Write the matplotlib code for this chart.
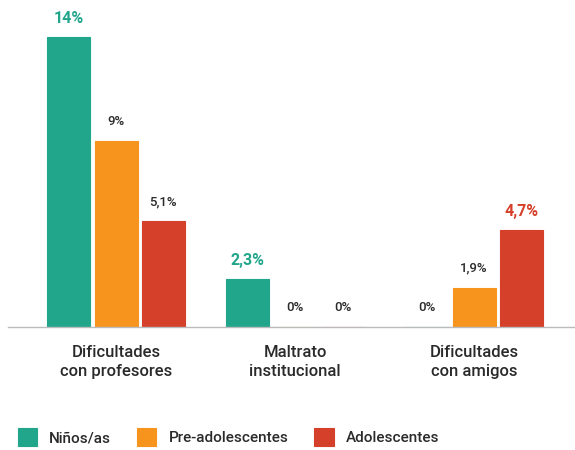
import numpy as np
from matplotlib import pyplot as plt

categories = ['Dificultades\ncon profesores', 'Maltrato\ninstitucional', 'Dificultades\ncon amigos']
series = ['Niños/as', 'Pre-adolescentes', 'Adolescentes']
ninos = [14, 2.3, 0]
pre = [9, 0, 1.9]
adol = [5.1, 0, 4.7]
labels_ninos = ['14%', '2,3%', '0%']
labels_pre = ['9%', '0%', '1,9%']
labels_adol = ['5,1%', '0%', '4,7%']
# which labels are highlighted (bold, coloured)
highlight = [[True, True, False], [False, False, False], [False, False, True]]

colors = ['#21A68B', '#F7941D', '#D4402A']
text_dark = '#2a2a2a'

plt.rcParams['font.family'] = ['Roboto', 'DejaVu Sans']

fig = plt.figure(figsize=(5.75, 4.5), dpi=100)
ax = fig.add_axes([8 / 575, 123 / 450, 567 / 575, 317 / 450])

x = np.arange(len(categories))
step = 47.5 / 179
width = 43 / 179
data = [ninos, pre, adol]
texts = [labels_ninos, labels_pre, labels_adol]

for i, (vals, col) in enumerate(zip(data, colors)):
  pos = x + (i - 1) * step
  ax.bar(pos, vals, width, color=col, edgecolor=col, linewidth=0.8, label=series[i])
  for j, (p, v) in enumerate(zip(pos, vals)):
    hl = highlight[i][j]
    ax.annotate(texts[i][j], (p, v), xytext=(0, 8 if hl else 9.5), textcoords='offset points',
                ha='center', va='bottom',
                fontsize=11.5 if hl else 9.5,
                fontweight='bold' if hl else 'medium',
                color=col if hl else text_dark)

ax.set_xlim((8 - 116) / 179, (575 - 116) / 179)
ax.set_ylim(0, 317 / 20.7)

for s in ['top', 'right', 'left']:
  ax.spines[s].set_visible(False)
ax.spines['bottom'].set_color('#bbbbbb')
ax.spines['bottom'].set_linewidth(1)
ax.set_yticks([])
ax.set_xticks(x)
ax.set_xticklabels(categories, fontsize=12, fontweight='medium', color=text_dark, linespacing=1.35)
ax.tick_params(axis='x', length=0, pad=13)

fig.legend(loc='center left', bbox_to_anchor=(18 / 575, 13 / 450), ncol=3, frameon=False,
           handlelength=1.25, handleheight=1.35, handletextpad=0.8,
           columnspacing=1.7, borderaxespad=0, borderpad=0, labelcolor=text_dark,
           prop={'weight': 'medium', 'size': 11})

plt.savefig('out.png', dpi=100)
